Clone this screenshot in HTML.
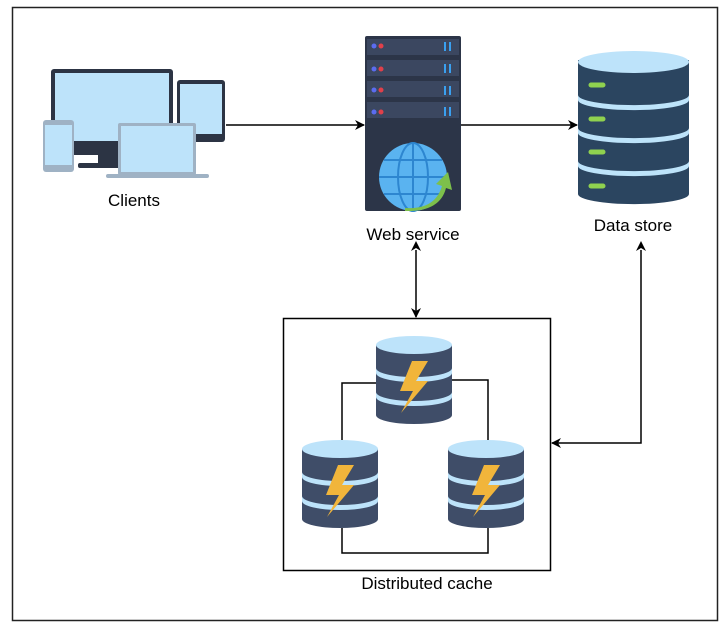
<!DOCTYPE html>
<html><head><meta charset="utf-8"><style>
html,body{margin:0;padding:0;background:#fff;width:720px;height:628px;overflow:hidden}
text{font-family:"Liberation Sans",Arial,sans-serif;font-size:17px;fill:#000}
</style></head><body>
<svg width="720" height="628" viewBox="0 0 720 628" xmlns="http://www.w3.org/2000/svg">
<defs>
<marker id="ar" markerWidth="10" markerHeight="10" refX="9" refY="5" orient="auto" markerUnits="userSpaceOnUse">
<path d="M0,0 L10,5 L0,10 L3,5 Z" fill="#000"/></marker>
<marker id="as" markerWidth="10" markerHeight="10" refX="1" refY="5" orient="auto-start-reverse" markerUnits="userSpaceOnUse">
<path d="M0,0 L10,5 L0,10 L3,5 Z" fill="#000"/></marker>
<g id="cyl">
<path d="M0,10 L0,80 A38,9 0 0 0 76,80 L76,10 Z" fill="#3f4d68"/>
<ellipse cx="38" cy="10" rx="38" ry="9" fill="#bde3fa"/>
<path d="M0,33 A38,9 0 0 0 76,33 L76,38 A38,9 0 0 1 0,38 Z" fill="#bde3fa"/>
<path d="M0,57 A38,9 0 0 0 76,57 L76,62 A38,9 0 0 1 0,62 Z" fill="#bde3fa"/>
<path d="M36,26 L24,56 L37,56 L25,78 L52,46 L40,46 L52,26 Z" fill="#f1b53b"/>
</g>
</defs>
<rect x="12.5" y="7.5" width="705" height="613" fill="none" stroke="#222" stroke-width="1.5"/>

<!-- Clients -->
<rect x="51" y="69" width="122" height="86" rx="3" fill="#2c3444"/>
<rect x="55" y="73" width="114" height="68" fill="#bde3fa"/>
<rect x="98" y="155" width="26" height="10" fill="#2c3444"/>
<rect x="78" y="163" width="62" height="5" rx="2" fill="#2c3444"/>
<rect x="177" y="80" width="48" height="62" rx="3" fill="#2c3444"/>
<rect x="180" y="84" width="42" height="50" fill="#bde3fa"/>
<rect x="43" y="120" width="31" height="52" rx="3" fill="#9fb2c4"/>
<rect x="45" y="125" width="27" height="40" fill="#bde3fa"/>
<rect x="118" y="123" width="78" height="52" rx="2" fill="#9fb2c4"/>
<rect x="121" y="126" width="72" height="46" fill="#bde3fa"/>
<rect x="106" y="174" width="103" height="4" rx="2" fill="#9fb2c4"/>
<text x="134" y="206" text-anchor="middle">Clients</text>

<!-- Web service -->
<rect x="365" y="36" width="96" height="175" rx="2" fill="#2c3548"/>
<g fill="#3b4760">
<rect x="367" y="39" width="92" height="16"/><rect x="367" y="60" width="92" height="16"/>
<rect x="367" y="81" width="92" height="16"/><rect x="367" y="102" width="92" height="16"/></g>
<g fill="#5b6cf0"><circle cx="374" cy="46" r="2.5"/><circle cx="374" cy="69" r="2.5"/><circle cx="374" cy="90" r="2.5"/><circle cx="374" cy="112" r="2.5"/></g>
<g fill="#e0404a"><circle cx="381" cy="46" r="2.5"/><circle cx="381" cy="69" r="2.5"/><circle cx="381" cy="90" r="2.5"/><circle cx="381" cy="112" r="2.5"/></g>
<g stroke="#3aa0f0" stroke-width="2"><path d="M445,42v9M450,42v9M445,64v9M450,64v9M445,86v9M450,86v9M445,107v9M450,107v9"/></g>
<circle cx="413" cy="177" r="34" fill="#5ab3f0"/>
<g fill="none" stroke="#2d86d0" stroke-width="2">
<ellipse cx="413" cy="177" rx="15" ry="34"/><path d="M413,143v68M379,177h68M384,160h58M384,194h58"/></g>
<path d="M405,208 Q435,210 442,186 L436,184 L448,172 L452,190 L446,188 Q440,212 405,211 Z" fill="#7dc04b"/>
<text x="413" y="240" text-anchor="middle">Web service</text>

<!-- Data store -->
<path d="M578,60 L578,194 A55,10 0 0 0 689,194 L689,60 Z" fill="#2b4560"/>
<ellipse cx="633.5" cy="62" rx="55.5" ry="11" fill="#bde3fa"/>
<path d="M578,95 A55,10 0 0 0 689,95 L689,100 A55,10 0 0 1 578,100 Z" fill="#bde3fa"/>
<path d="M578,128 A55,10 0 0 0 689,128 L689,133 A55,10 0 0 1 578,133 Z" fill="#bde3fa"/>
<path d="M578,161 A55,10 0 0 0 689,161 L689,166 A55,10 0 0 1 578,166 Z" fill="#bde3fa"/>
<g stroke="#8fd14f" stroke-width="5" stroke-linecap="round"><path d="M591,85h12M591,119h12M591,152h12M591,186h12"/></g>
<text x="633" y="231" text-anchor="middle">Data store</text>

<!-- connectors -->
<g stroke="#000" stroke-width="1.5" fill="none">
<path d="M226,125 H364" marker-end="url(#ar)"/>
<path d="M461,125 H577" marker-end="url(#ar)"/>
<path d="M416,250 V317" marker-start="url(#as)" marker-end="url(#ar)"/>
<path d="M641,250 V443 H552" marker-start="url(#as)" marker-end="url(#ar)"/>
</g>

<!-- cache -->
<rect x="283.5" y="318.5" width="267" height="252" fill="none" stroke="#000" stroke-width="1.5"/>
<g stroke="#000" stroke-width="1.5" fill="none">
<path d="M376,383 H342 V440"/><path d="M452,380 H488 V440"/><path d="M342,528 V553 H488 V528"/>
</g>
<use href="#cyl" x="376" y="335"/>
<use href="#cyl" x="302" y="439"/>
<use href="#cyl" x="448" y="439"/>
<text x="427" y="589" text-anchor="middle">Distributed cache</text>
</svg>
</body></html>
